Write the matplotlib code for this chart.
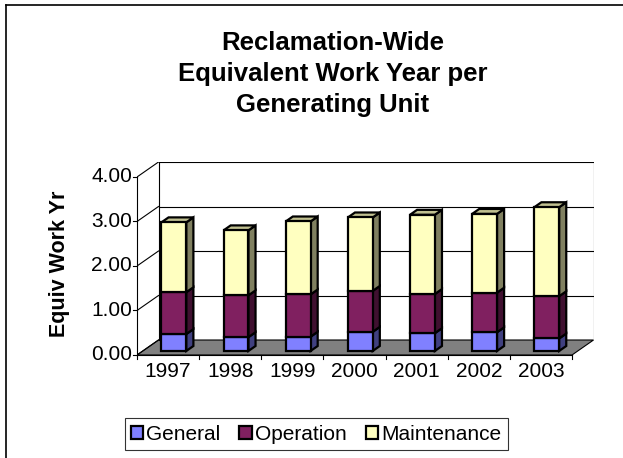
import matplotlib
matplotlib.use("Agg")
import matplotlib.pyplot as plt
from matplotlib.patches import Polygon, Rectangle
from matplotlib.lines import Line2D

plt.rcParams["font.family"] = ["Liberation Sans", "DejaVu Sans"]

years = ["1997", "1998", "1999", "2000", "2001", "2002", "2003"]
general = [0.38, 0.31, 0.32, 0.43, 0.40, 0.42, 0.28]
operation = [0.94, 0.94, 0.95, 0.92, 0.88, 0.89, 0.95]
maintenance = [1.57, 1.46, 1.64, 1.65, 1.78, 1.77, 2.00]

series = [("General", general, "#8080FF", "#404080", "#6060C0"),
          ("Operation", operation, "#802060", "#401030", "#602048"),
          ("Maintenance", maintenance, "#FFFFC0", "#808060", "#C0C090")]

# depth of the 3d box (in data units) and where the bars sit inside it
DX, DY = 0.346, 0.337
OFF = 0.27          # bar front face depth fraction
BD = 0.33           # bar depth fraction
W = 0.40
n = len(years)

fig = plt.figure(figsize=(6.23, 4.58), dpi=100)
ax = fig.add_axes([137 / 623, 103 / 458, 456.5 / 623, 193 / 458])
ax.set_xlim(-0.5, n - 0.5 + DX)
ax.set_ylim(0, 4 + DY)
ax.axis("off")

# back wall + floor
ax.add_patch(Polygon([(-0.5 + DX, DY), (n - 0.5 + DX, DY), (n - 0.5 + DX, 4 + DY),
                      (-0.5 + DX, 4 + DY)], closed=True, fc="white", ec="none", zorder=0))
ax.add_patch(Polygon([(-0.5, 0), (n - 0.5, 0), (n - 0.5 + DX, DY), (-0.5 + DX, DY)],
                     closed=True, fc="#808080", ec="black", lw=0.8, zorder=1))
for k in range(1, 5):
    ax.plot([-0.5 + DX, n - 0.5 + DX], [k + DY, k + DY], c="black", lw=0.8, zorder=1)
for k in range(0, 5):
    ax.plot([-0.5, -0.5 + DX], [k, k + DY], c="black", lw=0.8, zorder=1)
ax.plot([-0.5 + DX] * 2, [DY, 4 + DY], c="black", lw=0.8, zorder=1)
ax.plot([n - 0.5 + DX] * 2, [DY, 4 + DY], c="black", lw=0.8, zorder=1)

# front axes
ax.plot([-0.5, -0.5], [0, 4], c="black", lw=0.8, zorder=5, clip_on=False)
ax.plot([-0.5, n - 0.5], [0, 0], c="black", lw=0.8, zorder=5, clip_on=False)
for k in range(5):
    ax.plot([-0.5 - 0.07, -0.5], [k, k], c="black", lw=0.8, clip_on=False)
    ax.text(-0.5 - 0.08, k, f"{k:.2f}", ha="right", va="center", fontsize=15)
for i in range(n + 1):
    ax.plot([i - 0.5, i - 0.5], [0, -0.1], c="black", lw=0.8, clip_on=False)
for i, y in enumerate(years):
    ax.text(i, -0.16, y, ha="center", va="top", fontsize=15)

# stacked 3d bars
ox, oy = OFF * DX, OFF * DY
bx, by = BD * DX, BD * DY
for i in range(n):
    base = 0.0
    x0 = i + ox - W / 2
    x1 = x0 + W
    for name, vals, front, side, top in series:
        v = vals[i]
        y0 = base + oy
        y1 = y0 + v
        ax.add_patch(Rectangle((x0, y0), W, v, fc=front, ec="black", lw=1.6, zorder=10))
        ax.add_patch(Polygon([(x1, y0), (x1 + bx, y0 + by), (x1 + bx, y1 + by), (x1, y1)],
                             closed=True, fc=side, ec="black", lw=1.6, zorder=9))
        base += v
    ax.add_patch(Polygon([(x0, base + oy), (x1, base + oy), (x1 + bx, base + oy + by),
                          (x0 + bx, base + oy + by)],
                         closed=True, fc=series[-1][4], ec="black", lw=1.6, zorder=9))

fig.text(59 / 623, 1 - 264 / 458, "Equiv Work Yr", rotation=90, ha="center", va="center",
         fontsize=15.5, fontweight="bold")
fig.text(333 / 623, 1 - 74 / 458, "Reclamation-Wide\nEquivalent Work Year per\nGenerating Unit",
         ha="center", va="center", fontsize=18.5, fontweight="bold", linespacing=1.35)

handles = [Rectangle((0, 0), 1, 1, fc=s[2], ec="black", lw=1.6) for s in series]
leg = fig.legend(handles, [s[0] for s in series], loc="center", ncol=3,
                 bbox_to_anchor=(316 / 623, 1 - 434 / 458), fontsize=15, frameon=True,
                 fancybox=False, edgecolor="black", handlelength=0.6, handleheight=0.6,
                 handletextpad=0.15, columnspacing=0.9, borderpad=0.3, borderaxespad=0)
leg.get_frame().set_linewidth(0.8)

# chart border
fig.add_artist(Line2D([6 / 623, 1], [1 - 5 / 458] * 2, color="black", lw=1.2))
fig.add_artist(Line2D([6 / 623] * 2, [0, 1 - 5 / 458], color="black", lw=1.2))

fig.savefig("out.png", dpi=100)
